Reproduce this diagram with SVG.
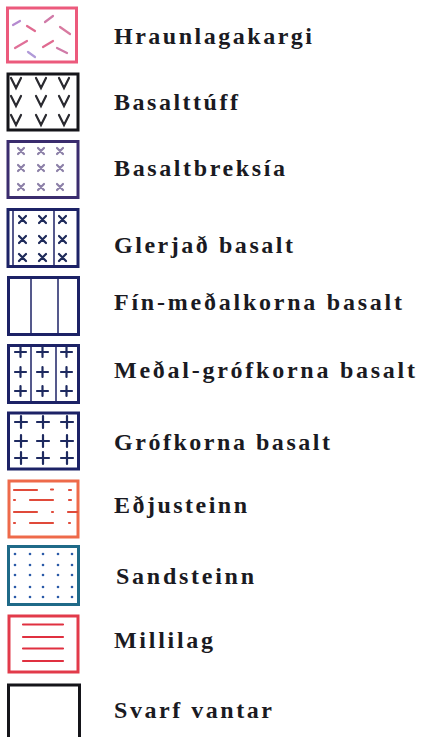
<svg xmlns="http://www.w3.org/2000/svg" width="421" height="737" viewBox="0 0 421 737">
<style>
.bx{fill:#fff;stroke-width:3}
.navy{stroke:#1c2266}
.p{stroke-width:2.2;stroke-linecap:round;fill:none}
</style>
<rect width="421" height="737" fill="#fff"/>
<g font-family="Liberation Serif, DejaVu Serif, serif" font-size="24" font-weight="bold" fill="#1a1a22">
<g id="hraunlagakargi">
<rect class="bx" x="7.5" y="8" width="69" height="54" stroke="#ec5a7c" stroke-width="2.5"/>
<g class="p" stroke-width="1.6">
<line x1="13" y1="25" x2="20" y2="21" stroke="#b58ad0"/>
<line x1="45" y1="22" x2="53" y2="16" stroke="#d07aa8"/>
<line x1="27" y1="26" x2="35" y2="31" stroke="#e06a90"/>
<line x1="60" y1="27" x2="70" y2="34" stroke="#d87aa0"/>
<line x1="15" y1="48" x2="27" y2="41" stroke="#e07098"/>
<line x1="43" y1="47" x2="53" y2="41" stroke="#e06a90"/>
<line x1="28" y1="52" x2="35" y2="57" stroke="#b09ad8"/>
<line x1="57" y1="48" x2="67" y2="53" stroke="#d07aa8"/>
</g>
<text x="114" y="44" textLength="198" lengthAdjust="spacing">Hraunlagakargi</text>
</g>
<g id="basalttuff">
<rect class="bx" x="8" y="74" width="70" height="56" stroke="#15151a" stroke-width="3.5"/>
<g class="p" stroke="#2a2a30" stroke-width="2">
<path d="M11 78 L16 88 L21 78 M36 78 L41 88 L46 78 M59 78 L64 88 L69 78"/>
<path d="M11 96 L16 106 L21 96 M36 96 L41 106 L46 96 M59 96 L64 106 L69 96"/>
<path d="M11 115 L16 125 L21 115 M36 115 L41 125 L46 115 M59 115 L64 125 L69 115"/>
</g>
<text x="114" y="110" textLength="124" lengthAdjust="spacing">Basalttúff</text>
</g>
<g id="basaltbreksia">
<rect class="bx" x="8" y="141.5" width="70" height="56" stroke="#3a2c6e" stroke-width="3"/>
<g class="p" stroke="#8c80a8" stroke-width="1.6">
<path d="M18 148 l6 6 m0 -6 l-6 6 M38 148 l6 6 m0 -6 l-6 6 M57 148 l6 6 m0 -6 l-6 6"/>
<path d="M18 165 l6 6 m0 -6 l-6 6 M38 165 l6 6 m0 -6 l-6 6 M57 165 l6 6 m0 -6 l-6 6"/>
<path d="M18 184 l6 6 m0 -6 l-6 6 M38 184 l6 6 m0 -6 l-6 6 M57 184 l6 6 m0 -6 l-6 6"/>
</g>
<text x="114" y="176" textLength="171" lengthAdjust="spacing">Basaltbreksía</text>
</g>
<g id="glerjad-basalt">
<rect class="bx navy" x="8" y="209.5" width="70" height="57"/>
<line x1="13" y1="210" x2="13" y2="266" stroke="#1c2266" stroke-width="1.5"/>
<line x1="54" y1="210" x2="54" y2="266" stroke="#1c2266" stroke-width="1.5"/>
<g class="p" stroke="#1e2a5a" stroke-width="2">
<path d="M19 216 l7 7 m0 -7 l-7 7 M39 216 l7 7 m0 -7 l-7 7 M59 216 l7 7 m0 -7 l-7 7"/>
<path d="M19 236 l7 7 m0 -7 l-7 7 M39 236 l7 7 m0 -7 l-7 7 M59 236 l7 7 m0 -7 l-7 7"/>
<path d="M19 254 l7 7 m0 -7 l-7 7 M39 254 l7 7 m0 -7 l-7 7 M59 254 l7 7 m0 -7 l-7 7"/>
</g>
<text x="114" y="253" textLength="179" lengthAdjust="spacing">Glerjað basalt</text>
</g>
<g id="fin-medalkorna-basalt">
<rect class="bx navy" x="8.5" y="277.5" width="70" height="57"/>
<line x1="31" y1="278" x2="31" y2="334" stroke="#1c2266" stroke-width="1.5"/>
<line x1="58" y1="278" x2="58" y2="334" stroke="#1c2266" stroke-width="1.5"/>
<text x="114" y="310" textLength="288" lengthAdjust="spacing">Fín-meðalkorna basalt</text>
</g>
<g id="medal-grofkorna-basalt">
<rect class="bx navy" x="8.5" y="345.5" width="70" height="57"/>
<line x1="31" y1="346" x2="31" y2="402" stroke="#1c2266" stroke-width="1.5"/>
<line x1="56" y1="346" x2="56" y2="402" stroke="#1c2266" stroke-width="1.5"/>
<g class="p" stroke="#1e2a60" stroke-width="2.2" stroke-linecap="butt">
<path d="M15 352 h11 m-5.5 -5 v10 M37 352 h11 m-5.5 -5 v10 M61 352 h11 m-5.5 -5 v10"/>
<path d="M15 372 h11 m-5.5 -5 v10 M37 372 h11 m-5.5 -5 v10 M61 372 h11 m-5.5 -5 v10"/>
<path d="M15 391 h11 m-5.5 -5 v10 M37 391 h11 m-5.5 -5 v10 M61 391 h11 m-5.5 -5 v10"/>
</g>
<text x="114" y="378" textLength="301" lengthAdjust="spacing">Meðal-grófkorna basalt</text>
</g>
<g id="grofkorna-basalt">
<rect class="bx navy" x="8.5" y="413" width="70" height="56"/>
<g class="p" stroke="#1e2a60" stroke-width="2.4" stroke-linecap="butt">
<path d="M15 422 h12 m-6 -6 v12 M37 422 h12 m-6 -6 v12 M61 422 h12 m-6 -6 v12"/>
<path d="M15 441 h12 m-6 -6 v12 M37 441 h12 m-6 -6 v12 M61 441 h12 m-6 -6 v12"/>
<path d="M15 458 h12 m-6 -6 v12 M37 458 h12 m-6 -6 v12 M61 458 h12 m-6 -6 v12"/>
</g>
<text x="114" y="450" textLength="216" lengthAdjust="spacing">Grófkorna basalt</text>
</g>
<g id="edjusteinn">
<rect class="bx" x="9" y="481" width="69" height="56" stroke="#ee6a4a" stroke-width="2.5"/>
<g class="p" stroke="#e04a3a" stroke-width="1.6">
<path d="M14 490 h23 M51 489.5 h2 M69 490 h2"/>
<path d="M14 500 h1 M30 500 h23 M69 500 h2"/>
<path d="M14 512 h23 M52 512 h1 M68 512 h9"/>
<path d="M14 523 h1 M30 523 h23 M69 523 h1"/>
</g>
<text x="114" y="513" textLength="133" lengthAdjust="spacing">Eðjusteinn</text>
</g>
<g id="sandsteinn">
<rect class="bx" x="8.5" y="546.5" width="70" height="58" stroke="#1f6a88" stroke-width="3"/>
<g fill="#2a5aa8">
<circle cx="15" cy="554" r="1.3"/><circle cx="30" cy="554" r="1.3"/><circle cx="43" cy="554" r="1.3"/><circle cx="58" cy="554" r="1.3"/><circle cx="72" cy="554" r="1.3"/>
<circle cx="15" cy="565" r="1.3"/><circle cx="30" cy="565" r="1.3"/><circle cx="43" cy="565" r="1.3"/><circle cx="58" cy="565" r="1.3"/><circle cx="72" cy="565" r="1.3"/>
<circle cx="15" cy="575" r="1.3"/><circle cx="30" cy="575" r="1.3"/><circle cx="43" cy="575" r="1.3"/><circle cx="58" cy="575" r="1.3"/><circle cx="72" cy="575" r="1.3"/>
<circle cx="15" cy="587" r="1.3"/><circle cx="30" cy="587" r="1.3"/><circle cx="43" cy="587" r="1.3"/><circle cx="58" cy="587" r="1.3"/><circle cx="72" cy="587" r="1.3"/>
<circle cx="15" cy="597" r="1.3"/><circle cx="30" cy="597" r="1.3"/><circle cx="43" cy="597" r="1.3"/><circle cx="58" cy="597" r="1.3"/><circle cx="72" cy="597" r="1.3"/>
</g>
<text x="116" y="584" textLength="138" lengthAdjust="spacing">Sandsteinn</text>
</g>
<g id="millilag">
<rect class="bx" x="9" y="616" width="69" height="56" stroke="#e23a4a" stroke-width="2.5"/>
<g class="p" stroke="#e03040" stroke-width="1.8">
<path d="M23 624.5 h40 M23 637 h40 M23 648.5 h40 M23 661 h40"/>
</g>
<text x="114" y="648" textLength="99" lengthAdjust="spacing">Millilag</text>
</g>
<g id="svarf-vantar">
<rect class="bx" x="8.5" y="685" width="71" height="60" stroke="#15151a" stroke-width="3"/>
<text x="114" y="718" textLength="158" lengthAdjust="spacing">Svarf vantar</text>
</g>
</g>
</svg>
